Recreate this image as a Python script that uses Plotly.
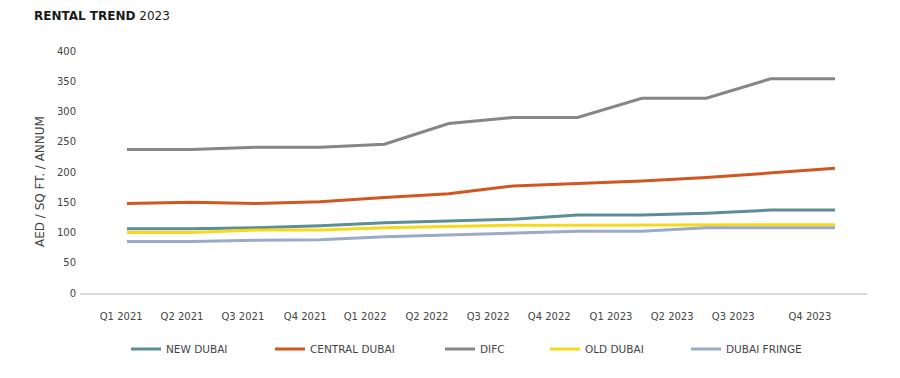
import plotly.graph_objects as go

quarters = ["Q1 2021", "Q2 2021", "Q3 2021", "Q4 2021", "Q1 2022", "Q2 2022",
            "Q3 2022", "Q4 2022", "Q1 2023", "Q2 2023", "Q3 2023", "Q4 2023"]

new_dubai = [106, 106, 108, 111, 116, 119, 122, 129, 129, 132, 137, 137]
central_dubai = [148, 150, 148, 151, 158, 164, 177, 181, 185, 191, 199, 206]
difc = [237, 237, 241, 241, 246, 280, 290, 290, 322, 322, 354, 354]
old_dubai = [100, 100, 104, 104, 108, 110, 112, 112, 112, 113, 113, 113]
dubai_fringe = [85, 85, 87, 88, 93, 96, 100, 102, 102, 108, 108, 108]

series_names = ["NEW DUBAI", "CENTRAL DUBAI", "DIFC", "OLD DUBAI", "DUBAI FRINGE"]
series_values = [new_dubai, central_dubai, difc, old_dubai, dubai_fringe]
colors = ["#5b8e96", "#d2571f", "#85858a", "#f5da1c", "#9aabc8"]

# layout: label positions (the source's labels are not aligned to the points)
tick_pos = [-0.09, 0.855, 1.80, 2.77, 3.70, 4.66, 5.61, 6.56, 7.52, 8.47, 9.42, 10.61]

# page body has an 8px offset; layout values below are in figure pixels
OFF = 8
legend_x_px = [126 - OFF, 270 - OFF, 440 - OFF, 545 - OFF, 686 - OFF]

W, H = 900, 378
ML = 80 - OFF
MT = 51 - OFF
MR = W - (867 - OFF)
MB = H - (293 - OFF)
PW = W - ML - MR
PH = H - MT - MB

FONT = "DejaVu Sans"
TXT = "#444444"

fig = go.Figure()
x_idx = list(range(len(quarters)))
for i, (name, vals, col) in enumerate(zip(series_names, series_values, colors)):
    fig.add_trace(go.Scatter(
        x=x_idx, y=vals, name=name, mode="lines",
        line=dict(color=col, width=3),
        legend="legend" if i == 0 else f"legend{i+1}",
        hoverinfo="skip",
    ))

legends = {}
for i, xp in enumerate(legend_x_px):
    key = "legend" if i == 0 else f"legend{i+1}"
    legends[key] = dict(
        x=(xp - ML) / PW, xanchor="left",
        y=((293 - OFF) - (349 - OFF)) / PH, yanchor="middle",
        orientation="h", bgcolor="rgba(0,0,0,0)", borderwidth=0,
        font=dict(family=FONT, size=10.5, color=TXT),
    )

fig.update_layout(
    width=W, height=H,
    margin=dict(l=ML, r=MR, t=MT, b=MB),
    paper_bgcolor="white", plot_bgcolor="white",
    title=dict(text="<b>RENTAL TREND</b> 2023", xref="container", yref="container",
               x=(34 - OFF) / W, y=1 - (16 - OFF) / H, xanchor="left", yanchor="middle",
               font=dict(family=FONT, size=12, color="#1a1a1a")),
    showlegend=True,
    **legends,
)

fig.update_xaxes(
    range=[-0.73, 11.497], tickmode="array", tickvals=tick_pos, ticktext=quarters,
    showgrid=False, zeroline=False, showline=True, linecolor="#d9d9d9", linewidth=1.5,
    ticks="", ticklabelstandoff=13,
    tickfont=dict(family=FONT, size=10, color=TXT),
)
fig.update_yaxes(
    range=[0, 400], dtick=50, showgrid=False, zeroline=False, showline=False,
    ticks="", ticklabelstandoff=3,
    tickfont=dict(family=FONT, size=10, color=TXT),
)

fig.add_annotation(
    text="AED / SQ FT. / ANNUM", textangle=-90, xref="paper", yref="paper",
    x=((40 - OFF) - ML) / PW, y=((293 - OFF) - (182 - OFF)) / PH,
    xanchor="center", yanchor="middle",
    showarrow=False, font=dict(family=FONT, size=12, color=TXT),
)

fig.write_html("out.html")
